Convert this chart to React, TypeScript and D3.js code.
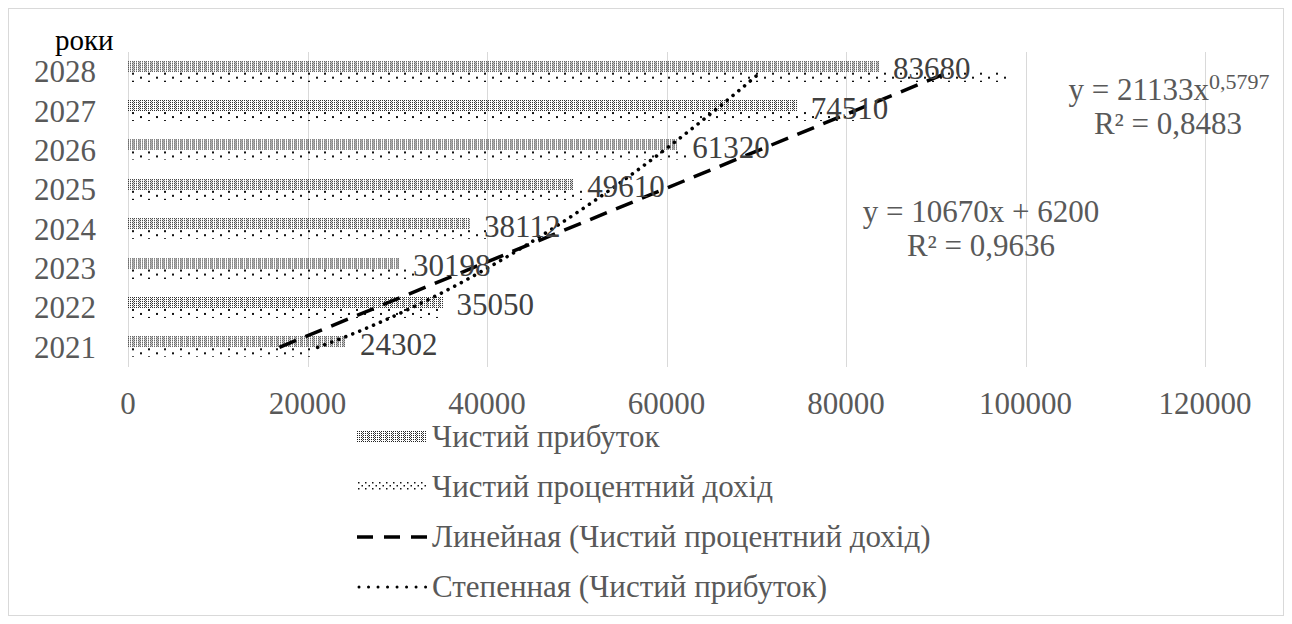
import React from 'react';
import * as d3 from 'd3';

// Years on the category axis (bottom to top)
const years = ['2021', '2022', '2023', '2024', '2025', '2026', '2027', '2028'];
// Чистий прибуток
const netProfit = [24302, 35050, 30198, 38112, 49610, 61320, 74510, 83680];
// Чистий процентний дохід
const netInterestIncome = [21000, 35000, 32000, 40000, 51000, 62600, 81200, 98000];
const xTicks = [0, 20000, 40000, 60000, 80000, 100000, 120000];

// Trend line coefficients: linear y = a*x + b, power y = c*x^p
const linearCoef = [10670, 6200];
const powerCoef = [21133, 0.5797];
const rSquared = [0.9636, 0.8483];

const seriesNames = ['Чистий прибуток', 'Чистий процентний дохід'];
const trendNames = ['Линейная (Чистий процентний дохід)', 'Степенная (Чистий прибуток)'];
const axisTitle = 'роки';

const W = 1292;
const H = 624;
const FONT = '"Liberation Serif", "Times New Roman", serif';
const TEXT = '#595959';
const FS = 31;

const comma = (v: number) => String(v).replace('.', ',');

// fine dotted fill used for the net-profit bars
function DensePattern({ id, x, y }: { id: string; x: number; y: number }) {
  return (
    <pattern id={id} patternUnits="userSpaceOnUse" x={x} y={y} width={6} height={2}>
      <rect x={0} y={0} width={1} height={1} fill="#222" />
      <rect x={2} y={0} width={1} height={1} fill="#222" />
      <rect x={4} y={0} width={1} height={1} fill="#222" />
      <rect x={5} y={1} width={1} height={1} fill="#555" />
    </pattern>
  );
}

export default function App() {
  const x = d3.scaleLinear().domain([0, 120000]).range([128, 1205]);
  const y = d3
    .scaleBand<string>()
    .domain([...years].reverse())
    .range([52, 367]);
  const bw = y.bandwidth();
  const center = (yr: string) => (y(yr) as number) + bw / 2;

  // trend index (1 = first year) mapped onto category centres
  const idxY = d3
    .scaleLinear()
    .domain([1, years.length])
    .range([center(years[0]), center(years[years.length - 1])]);

  const line = d3.line<[number, number]>();
  const linPts: [number, number][] = [1, years.length].map((t) => [
    x(linearCoef[0] * t + linearCoef[1]),
    idxY(t),
  ]);
  const powPts: [number, number][] = d3
    .range(1, years.length + 0.0001, 0.05)
    .map((t) => [x(powerCoef[0] * Math.pow(t, powerCoef[1])), idxY(t)]);

  const barH = 11;
  const legendY = [437, 487, 537, 587];
  const swX = 357;
  const swW = 70;

  return (
    <svg
      width={W}
      height={H}
      style={{ position: 'absolute', left: 0, top: 0, background: '#fff' }}
      fontFamily={FONT}
    >
      <defs>
        {years.map((yr, i) => (
          <DensePattern key={'d' + i} id={'dense-' + i} x={x(0)} y={center(yr) - barH} />
        ))}
        {years.map((yr, i) => (
          <pattern
            key={'s' + i}
            id={'sparse-' + i}
            patternUnits="userSpaceOnUse"
            x={x(0) + 4}
            y={center(yr)}
            width={16}
            height={8}
          >
            <rect x={0} y={1} width={2} height={2} fill="#111" />
            <rect x={8} y={5} width={2} height={2} fill="#111" />
          </pattern>
        ))}
        <DensePattern id="legend-dense" x={swX} y={legendY[0] - 6} />
        <pattern id="legend-sparse" patternUnits="userSpaceOnUse" x={swX} y={legendY[1] - 6} width={7} height={10}>
          <rect x={1} y={1} width={1.5} height={1.5} fill="#111" />
          <rect x={1} y={7} width={1.5} height={1.5} fill="#111" />
          <rect x={4.5} y={4} width={1.5} height={1.5} fill="#111" />
        </pattern>
      </defs>

      {/* chart frame */}
      <rect x={8.5} y={8.5} width={1275} height={607} fill="#fff" stroke="#d9d9d9" strokeWidth={1} />

      {/* vertical gridlines */}
      {xTicks.map((t) => (
        <line
          key={'g' + t}
          x1={Math.round(x(t)) + 0.5}
          x2={Math.round(x(t)) + 0.5}
          y1={52}
          y2={367}
          stroke="#d9d9d9"
          strokeWidth={1}
        />
      ))}

      {/* bars */}
      {years.map((yr, i) => (
        <g key={'b' + yr} shapeRendering="crispEdges">
          <rect
            x={x(0)}
            y={center(yr) - barH}
            width={x(netProfit[i]) - x(0)}
            height={barH}
            fill={`url(#dense-${i})`}
          />
          <rect
            x={x(0)}
            y={center(yr)}
            width={x(netInterestIncome[i]) - x(0)}
            height={barH - 1}
            fill={`url(#sparse-${i})`}
          />
        </g>
      ))}

      {/* trend lines */}
      <path d={line(linPts) || ''} fill="none" stroke="#000" strokeWidth={3.5} strokeDasharray="18 10" />
      <path
        d={line(powPts) || ''}
        fill="none"
        stroke="#000"
        strokeWidth={3.6}
        strokeLinecap="round"
        strokeDasharray="0.01 7.5"
      />

      {/* data labels */}
      {years.map((yr, i) => (
        <text key={'l' + yr} x={x(netProfit[i]) + 14} y={center(yr) + 7.5} fontSize={FS} fill="#404040">
          {netProfit[i]}
        </text>
      ))}

      {/* category axis */}
      <text x={55} y={50} fontSize={FS - 2} fill="#000">
        {axisTitle}
      </text>
      {years.map((yr) => (
        <text key={'y' + yr} x={96} y={center(yr) + 10.5} fontSize={FS} fill={TEXT} textAnchor="end">
          {yr}
        </text>
      ))}

      {/* value axis */}
      {xTicks.map((t) => (
        <text key={'t' + t} x={x(t)} y={414} fontSize={FS} fill={TEXT} textAnchor="middle">
          {t}
        </text>
      ))}

      {/* trend equations */}
      <text x={1169} y={100} fontSize={FS} fill={TEXT} textAnchor="middle">
        {`y = ${powerCoef[0]}x`}
        <tspan fontSize={22} dy={-11}>
          {comma(powerCoef[1])}
        </tspan>
      </text>
      <text x={1168} y={134} fontSize={FS} fill={TEXT} textAnchor="middle">
        {`R² = ${comma(rSquared[1])}`}
      </text>
      <text x={981} y={222} fontSize={FS} fill={TEXT} textAnchor="middle">
        {`y = ${linearCoef[0]}x + ${linearCoef[1]}`}
      </text>
      <text x={981} y={256} fontSize={FS} fill={TEXT} textAnchor="middle">
        {`R² = ${comma(rSquared[0])}`}
      </text>

      {/* legend */}
      <rect x={swX} y={legendY[0] - 6} width={swW} height={11} fill="url(#legend-dense)" shapeRendering="crispEdges" />
      <rect x={swX} y={legendY[1] - 6} width={swW} height={10} fill="url(#legend-sparse)" />
      <line x1={swX} x2={swX + swW} y1={legendY[2]} y2={legendY[2]} stroke="#000" strokeWidth={3.5} strokeDasharray="16 11" />
      <line
        x1={swX + 2}
        x2={swX + swW}
        y1={legendY[3]}
        y2={legendY[3]}
        stroke="#000"
        strokeWidth={3}
        strokeLinecap="round"
        strokeDasharray="0.01 9.5"
      />
      {[...seriesNames, ...trendNames].map((name, i) => (
        <text key={'lg' + i} x={432} y={legendY[i] + 10} fontSize={FS} fill={TEXT}>
          {name}
        </text>
      ))}
    </svg>
  );
}
